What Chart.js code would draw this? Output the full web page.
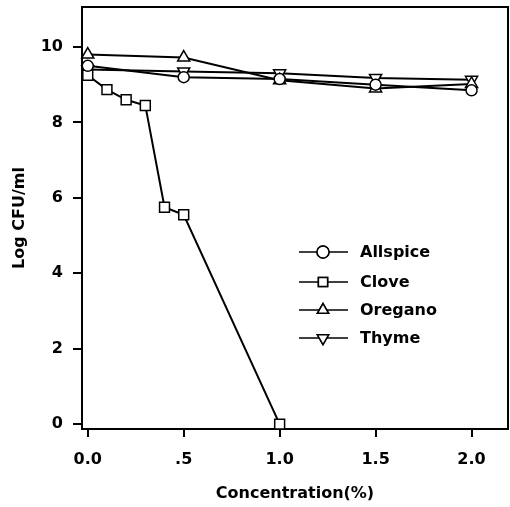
<!DOCTYPE html>
<html>
<head>
<meta charset="utf-8">
<script src="https://cdn.jsdelivr.net/npm/chart.js@4/dist/chart.umd.min.js"></script>
<style>
  html, body { margin: 0; padding: 0; background: #fff; }
  #wrap { width: 510px; height: 507px; }
</style>
</head>
<body>
<div id="wrap"><canvas id="grafico" width="510" height="507"></canvas></div>
<script>
// --- DATA ---
const concMain = [0, 0.5, 1.0, 1.5, 2.0];
const concClove = [0, 0.1, 0.2, 0.3, 0.4, 0.5, 1.0];
const allspice = [9.5, 9.2, 9.15, 9.0, 8.85];
const clove = [9.25, 8.87, 8.6, 8.45, 5.75, 5.55, 0];
const oregano = [9.8, 9.72, 9.12, 8.9, 9.02];
const thyme = [9.4, 9.35, 9.3, 9.18, 9.13];
const xTicks = [0, 0.5, 1.0, 1.5, 2.0];
const yTicks = [0, 2, 4, 6, 8, 10];

const FONT = { family: "'DejaVu Sans', sans-serif", size: 16, weight: "bold" };

function pares(xs, ys) {
  return xs.map((x, i) => ({ x, y: ys[i] }));
}

function serie(label, xs, ys, pointStyle, radius, rotation = 0) {
  return {
    label,
    data: pares(xs, ys),
    borderColor: "#000",
    borderWidth: 2,
    backgroundColor: "#fff",
    pointStyle,
    pointRadius: radius,
    pointRotation: rotation,
    pointBorderWidth: 1.5,
    pointBorderColor: "#000",
    pointBackgroundColor: "#fff",
    tension: 0,
    clip: false,
  };
}

const datasets = [
  serie("Allspice", concMain, allspice, "circle", 5.5),
  serie("Clove", concClove, clove, "rect", 7),
  serie("Oregano", concMain, oregano, "triangle", 7),
  serie("Thyme", concMain, thyme, "triangle", 7, 180),
];

// frame (top + right) and legend inside plot
const marco = {
  id: "marco",
  afterDraw(chart) {
    const { ctx, chartArea: a } = chart;
    ctx.save();
    ctx.strokeStyle = "#000";
    ctx.lineWidth = 2;
    ctx.beginPath();
    ctx.moveTo(a.left, a.top);
    ctx.lineTo(a.right, a.top);
    ctx.lineTo(a.right, a.bottom);
    ctx.stroke();

    const filas = [252, 282, 310, 338];
    datasets.forEach((ds, i) => {
      const y = filas[i];
      ctx.strokeStyle = "#000";
      ctx.lineWidth = 1.5;
      ctx.beginPath();
      ctx.moveTo(299, y);
      ctx.lineTo(348, y);
      ctx.stroke();
      ctx.fillStyle = "#fff";
      Chart.helpers.drawPoint(ctx, {
        pointStyle: ds.pointStyle,
        radius: ds.pointStyle === "circle" ? 6 : 6.5,
        rotation: ds.pointRotation,
        borderWidth: 1.5,
      }, 323, y);
      ctx.fill();
      ctx.stroke();
      ctx.fillStyle = "#000";
      ctx.font = "bold 16px 'DejaVu Sans', sans-serif";
      ctx.textAlign = "left";
      ctx.textBaseline = "middle";
      ctx.fillText(ds.label, 360, y + 1);
    });
    ctx.restore();
  },
};

new Chart(document.getElementById("grafico"), {
  type: "line",
  data: { datasets },
  options: {
    responsive: false,
    animation: false,
    devicePixelRatio: 1,
    layout: { autoPadding: false, padding: { top: 7, right: 2, left: 0, bottom: 0 } },
    plugins: { legend: { display: false }, tooltip: { enabled: false } },
    scales: {
      x: {
        type: "linear",
        min: -0.03,
        max: 2.19,
        afterBuildTicks: (s) => { s.ticks = xTicks.map(v => ({ value: v })); },
        afterFit: (s) => { s.height = 78; s.paddingLeft = 0; s.paddingRight = 0; },
        border: { display: true, color: "#000", width: 2 },
        grid: { drawOnChartArea: false, drawTicks: true, tickLength: 8, color: "#000", lineWidth: 2 },
        ticks: {
          color: "#000",
          font: FONT,
          padding: 13,
          maxRotation: 0,
          callback: (v) => (v === 0.5 ? ".5" : v.toFixed(1)),
        },
        title: { display: true, text: "Concentration(%)", color: "#000", font: FONT, padding: { top: 0, bottom: 4 } },
      },
      y: {
        min: -0.13,
        max: 11.06,
        afterBuildTicks: (s) => { s.ticks = yTicks.map(v => ({ value: v })); },
        afterFit: (s) => { s.width = 82; s.paddingTop = 0; s.paddingBottom = 0; },
        border: { display: true, color: "#000", width: 2 },
        grid: { drawOnChartArea: false, drawTicks: true, tickLength: 9, color: "#000", lineWidth: 2 },
        ticks: { color: "#000", font: FONT, padding: 10, callback: (v) => String(v) },
        title: { display: true, text: "Log CFU/ml", color: "#000", font: FONT, padding: { top: 10, bottom: 0 } },
      },
    },
  },
  plugins: [marco],
});
</script>
</body>
</html>
